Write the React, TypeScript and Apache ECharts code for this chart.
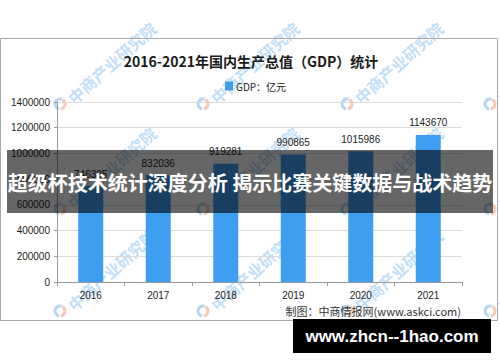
import React, { useEffect, useRef } from "react";
import * as echarts from "echarts";

const categories = ["2016", "2017", "2018", "2019", "2020", "2021"];
const gdpValues = [746395, 832036, 919281, 990865, 1015986, 1143670];
const seriesName = "GDP：亿元";
const titleText = "2016-2021年国内生产总值（GDP）统计";
const sourceText = "制图：中商情报网(www.askci.com)";
const bannerText = "超级杯技术统计深度分析 揭示比赛关键数据与战术趋势";
const siteText = "www.zhcn--1hao.com";
const watermarkText = "中商产业研究院";
const watermarkCols = [60, 203, 347, 490];
const watermarkRows = [104, 209, 311];

function buildWatermarks(): any[] {
  const els: any[] = [];
  watermarkRows.forEach((wy) => {
    watermarkCols.forEach((wx) => {
      els.push({
        type: "group",
        x: wx,
        y: wy,
        z: 50,
        silent: true,
        children: [
          {
            type: "arc",
            shape: { cx: 0, cy: 0, r: 5, startAngle: Math.PI * 0.55, endAngle: Math.PI * 1.6 },
            style: { stroke: "rgba(110,175,230,0.5)", lineWidth: 3, fill: "none" },
          },
          {
            type: "arc",
            shape: { cx: 0, cy: 0, r: 5, startAngle: -Math.PI * 0.35, endAngle: Math.PI * 0.45 },
            style: { stroke: "rgba(240,150,120,0.5)", lineWidth: 3, fill: "none" },
          },
          {
            type: "text",
            x: 10,
            y: -4,
            rotation: 0.73,
            style: {
              text: watermarkText,
              fill: "rgba(140,195,240,0.55)",
              fontSize: 16,
              fontWeight: "bold",
              fontFamily: "'Noto Sans CJK SC'",
              textAlign: "left",
              textVerticalAlign: "middle",
            },
          },
        ],
      });
    });
  });
  return els;
}

export default function App() {
  const ref = useRef<HTMLDivElement>(null);
  useEffect(() => {
    if (!ref.current) return;
    const chart = echarts.init(ref.current, undefined, { renderer: "svg" });
    chart.setOption({
      animation: false,
      backgroundColor: "#ffffff",
      title: {
        text: titleText,
        left: 246,
        textAlign: "center",
        top: 49,
        textStyle: {
          fontSize: 14,
          fontWeight: "bold",
          color: "#1a1a1a",
          fontFamily: "'Noto Sans CJK SC'",
        },
      },
      legend: {
        data: [seriesName],
        left: 220,
        top: 76,
        itemWidth: 8,
        itemHeight: 9,
        itemGap: 4,
        icon: "rect",
        textStyle: { fontSize: 10, color: "#222", fontFamily: "'Noto Sans CJK SC'", padding: [0, 0, 0, -2] },
      },
      grid: { left: 57, right: 38, top: 102, bottom: 80, containLabel: false },
      xAxis: {
        type: "category",
        data: categories,
        boundaryGap: true,
        axisLine: { show: true, lineStyle: { color: "#999", width: 1 } },
        axisTick: { show: true, length: 4, lineStyle: { color: "#999" } },
        axisLabel: { fontSize: 10, color: "#222", margin: 8, fontFamily: "'Liberation Sans', Arial" },
      },
      yAxis: {
        type: "value",
        min: 0,
        max: 1400000,
        interval: 200000,
        axisLine: { show: true, lineStyle: { color: "#999", width: 1 } },
        axisTick: { show: true, length: 3, lineStyle: { color: "#999" } },
        axisLabel: {
          fontSize: 10,
          color: "#222",
          margin: 7,
          fontFamily: "'Liberation Sans', Arial",
          formatter: (v: number) => String(v),
        },
        splitLine: { show: true, lineStyle: { color: "#dcdcdc", width: 1 } },
      },
      series: [
        {
          name: seriesName,
          type: "bar",
          data: gdpValues,
          barWidth: 25,
          itemStyle: { color: "#3e9ef2" },
          label: {
            show: true,
            position: "top",
            distance: 7,
            fontSize: 10,
            color: "#222",
            fontFamily: "'Liberation Sans', Arial",
            formatter: (p: any) => String(p.value),
          },
        },
      ],
      graphic: [
        {
          type: "rect",
          z: 1,
          shape: { x: 0.5, y: 38.5, width: 497, height: 282 },
          style: { fill: "none", stroke: "#a8a8a8", lineWidth: 1 },
          silent: true,
        },
        {
          type: "text",
          z: 10,
          x: 461,
          y: 311,
          style: {
            text: sourceText,
            fontSize: 11,
            fill: "#333",
            fontFamily: "'Noto Sans CJK SC'",
            textAlign: "right",
            textVerticalAlign: "middle",
          },
        },
        ...buildWatermarks(),
        {
          type: "rect",
          z: 100,
          shape: { x: 7, y: 150, width: 486, height: 63 },
          style: { fill: "rgba(0,0,0,0.6)" },
          silent: true,
        },
        {
          type: "text",
          z: 101,
          x: 250,
          y: 182,
          style: {
            text: bannerText,
            fontSize: 20,
            fontWeight: "bold",
            fill: "#ffffff",
            fontFamily: "'Noto Sans CJK SC'",
            textAlign: "center",
            textVerticalAlign: "middle",
          },
        },
        {
          type: "rect",
          z: 100,
          shape: { x: 293, y: 319, width: 198, height: 34 },
          style: { fill: "#000000" },
          silent: true,
        },
        {
          type: "text",
          z: 101,
          x: 392,
          y: 336,
          style: {
            text: siteText,
            fontSize: 17,
            fontWeight: "bold",
            fill: "#ffffff",
            fontFamily: "'Liberation Sans', Arial",
            textAlign: "center",
            textVerticalAlign: "middle",
          },
        },
      ],
    });
    return () => chart.dispose();
  }, []);
  return (
    <div
      ref={ref}
      style={{ position: "absolute", left: 0, top: 0, width: 500, height: 362 }}
    />
  );
}
